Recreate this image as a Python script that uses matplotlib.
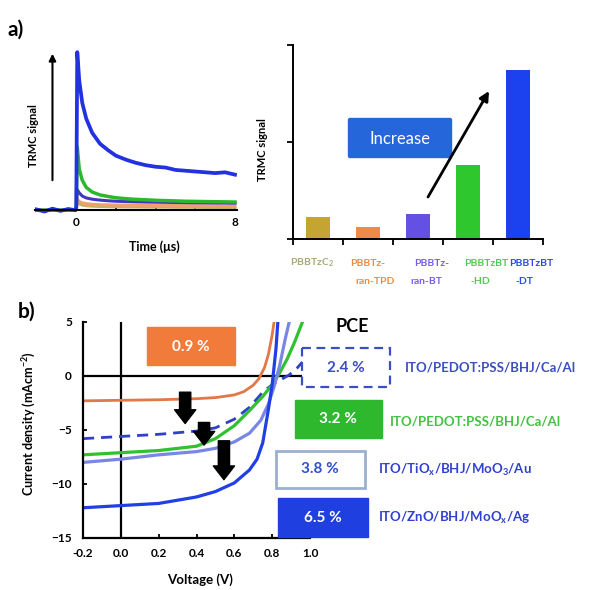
import matplotlib
matplotlib.use('Agg')
import matplotlib.pyplot as plt
from matplotlib.patches import Rectangle, FancyBboxPatch

plt.rcParams['font.family'] = ['Lato', 'DejaVu Sans']
plt.rcParams['font.weight'] = 'bold'
plt.rcParams['mathtext.default'] = 'regular'

# ---------------- data ----------------
# (a) TRMC transients
trmc_time = [-2.0, -1.6, -1.2, -0.8, -0.4, -0.05, 0.0, 0.05, 0.15, 0.3, 0.5, 0.8, 1.2,
             1.6, 2.0, 2.5, 3.0, 3.5, 4.0, 4.5, 5.0, 5.5, 6.0, 6.5, 7.0, 7.5, 8.0]
trmc_dt = [0.005, -0.008, 0.01, -0.004, 0.008, 0.0, 0.02, 1.0, 0.82, 0.68, 0.58, 0.49, 0.42,
           0.38, 0.345, 0.32, 0.30, 0.285, 0.275, 0.27, 0.255, 0.25, 0.245, 0.24, 0.235, 0.24, 0.225]
trmc_hd = [0.0, 0.0, 0.0, 0.0, 0.0, 0.0, 0.01, 0.40, 0.26, 0.19, 0.145, 0.115, 0.097,
           0.087, 0.079, 0.073, 0.069, 0.066, 0.063, 0.061, 0.059, 0.057, 0.056, 0.055, 0.054, 0.053, 0.052]
trmc_bt = [0.0, 0.0, 0.0, 0.0, 0.0, 0.0, 0.01, 0.13, 0.11, 0.09, 0.078, 0.07, 0.064,
           0.06, 0.057, 0.055, 0.053, 0.052, 0.051, 0.05, 0.049, 0.048, 0.047, 0.047, 0.046, 0.046, 0.045]
trmc_tpd = [0.0, 0.0, 0.0, 0.0, 0.0, 0.0, 0.01, 0.07, 0.055, 0.047, 0.042, 0.038, 0.035,
            0.034, 0.033, 0.032, 0.031, 0.031, 0.03, 0.03, 0.03, 0.029, 0.029, 0.029, 0.028, 0.028, 0.028]
trmc_c2 = [0.0, 0.0, 0.0, 0.0, 0.0, 0.0, 0.01, 0.05, 0.04, 0.033, 0.029, 0.026, 0.024,
           0.023, 0.022, 0.021, 0.021, 0.02, 0.02, 0.02, 0.019, 0.019, 0.019, 0.018, 0.018, 0.018, 0.018]

# (a) TRMC bar chart
polymers_line1 = ['PBBTzC$_2$', 'PBBTz-', 'PBBTz-', 'PBBTzBT', 'PBBTzBT']
polymers_line2 = ['', 'ran-TPD', 'ran-BT', '-HD', '-DT']
trmc_bar = [0.23, 0.12, 0.26, 0.76, 1.74]

# (b) J-V curves
v_orange = [-0.2, 0.0, 0.2, 0.4, 0.5, 0.6, 0.65, 0.7, 0.73, 0.76, 0.78, 0.8, 0.81]
j_orange = [-2.3, -2.25, -2.2, -2.1, -2.0, -1.75, -1.45, -0.85, -0.25, 0.8, 2.0, 3.8, 5.0]
v_dash = [-0.2, 0.0, 0.2, 0.4, 0.5, 0.6, 0.68, 0.75, 0.8, 0.85, 0.89, 0.93, 0.96]
j_dash = [-5.8, -5.6, -5.4, -5.1, -4.8, -4.0, -2.9, -1.5, -0.8, -0.3, 0.1, 0.7, 1.3]
v_green = [-0.2, 0.0, 0.2, 0.4, 0.5, 0.6, 0.68, 0.75, 0.8, 0.84, 0.88, 0.92, 0.96]
j_green = [-7.3, -7.1, -6.9, -6.5, -5.8, -4.6, -3.2, -1.9, -0.8, 0.3, 1.6, 3.2, 5.0]
v_light = [-0.2, 0.0, 0.2, 0.4, 0.5, 0.6, 0.68, 0.74, 0.78, 0.81, 0.84, 0.87, 0.89]
j_light = [-8.0, -7.7, -7.3, -7.0, -6.7, -6.1, -5.3, -4.1, -2.6, -1.0, 1.0, 3.5, 5.0]
v_blue = [-0.2, 0.0, 0.2, 0.4, 0.5, 0.6, 0.68, 0.72, 0.75, 0.78, 0.8, 0.82, 0.83]
j_blue = [-12.2, -12.0, -11.8, -11.2, -10.7, -9.9, -8.7, -7.7, -6.2, -3.1, -0.8, 2.5, 5.0]

pce_labels = ['0.9 %', '2.4 %', '3.2 %', '3.8 %', '6.5 %']
device_labels = ['ITO/PEDOT:PSS/BHJ/Ca/Al', 'ITO/PEDOT:PSS/BHJ/Ca/Al',
                 'ITO/TiO$_x$/BHJ/MoO$_3$/Au', 'ITO/ZnO/BHJ/MoO$_x$/Ag']

# ---------------- figure ----------------
W, H = 613, 590
fig = plt.figure(figsize=(W / 100, H / 100), dpi=100)


def rect(l, t, r, b):
    return [l / W, 1 - b / H, (r - l) / W, (b - t) / H]


# ---- (a) left: transients ----
axL = fig.add_axes(rect(35, 45, 237, 215))
axL.set_xlim(-2.08, 8.1)
axL.set_ylim(-0.03, 1.045)
for s in ['left', 'right', 'top']:
    axL.spines[s].set_visible(False)
axL.spines['bottom'].set_position(('data', 0))
axL.spines['bottom'].set_linewidth(1.5)
axL.set_yticks([])
axL.set_xticks([0, 2, 4, 6, 8])
axL.set_xticklabels(['0', '', '', '', '8'])
axL.tick_params(axis='x', direction='in', length=3, width=1.3, labelsize=8.5, pad=5)
axL.plot(trmc_time, trmc_c2, color='#C8B060', lw=2.2)
axL.plot(trmc_time, trmc_tpd, color='#F0A070', lw=2.2)
axL.plot(trmc_time, trmc_bt, color='#4038C0', lw=2.2)
axL.plot(trmc_time, trmc_hd, color='#2CB82C', lw=2.5)
axL.plot(trmc_time, trmc_dt, color='#2232E0', lw=2.7)
axL.annotate('', xy=(-1.2, 0.99), xytext=(-1.2, 0.19),
             arrowprops=dict(arrowstyle='-|>', color='black', lw=1.5,
                             shrinkA=0, shrinkB=0, mutation_scale=10))
axL.set_ylabel('TRMC signal', fontsize=8, fontweight='bold')
axL.yaxis.set_label_coords(0.02, 0.47)
axL.set_xlabel('Time (\u03bcs)', fontsize=9, fontweight='bold')
axL.xaxis.set_label_coords(0.59, -0.15)

# ---- (a) right: bars ----
axR = fig.add_axes(rect(293, 45, 543, 239))
axR.set_xlim(0, 5)
axR.set_ylim(0, 2)
axR.spines['right'].set_visible(False)
axR.spines['top'].set_visible(False)
axR.spines['left'].set_linewidth(1.4)
axR.spines['bottom'].set_linewidth(1.4)
axR.set_yticks([0, 1, 2])
axR.set_yticklabels([])
axR.set_xticks([0, 1, 2, 3, 4, 5])
axR.set_xticklabels([])
axR.tick_params(direction='out', length=4, width=1.3)
bar_colors = ['#C4A432', '#F08A48', '#6450E4', '#2EC82E', '#1C42F0']
axR.bar([0.5, 1.5, 2.5, 3.5, 4.5], trmc_bar, width=0.48, color=bar_colors)
axR.set_ylabel('TRMC signal', fontsize=8, fontweight='bold')
axR.yaxis.set_label_coords(-0.10, 0.46)

# ---- (b) J-V ----
axB = fig.add_axes(rect(83, 322, 310, 538))
axB.set_xlim(-0.2, 1.0)
axB.set_ylim(-15, 5)
axB.spines['right'].set_visible(False)
axB.spines['top'].set_visible(False)
axB.spines['left'].set_linewidth(1.6)
axB.spines['bottom'].set_linewidth(1.6)
axB.set_xticks([-0.2, 0.0, 0.2, 0.4, 0.6, 0.8, 1.0])
axB.set_xticklabels(['-0.2', '0.0', '0.2', '0.4', '0.6', '0.8', '1.0'])
axB.set_yticks([-15, -10, -5, 0, 5])
axB.tick_params(direction='in', length=3, width=1.3, labelsize=8.5)
axB.tick_params(axis='x', pad=7)
axB.tick_params(axis='y', pad=8)
axB.axhline(0, color='black', lw=1.6, zorder=1)
axB.axvline(0, color='black', lw=1.6, zorder=1)
axB.plot(v_orange, j_orange, color='#E07848', lw=2.0)
axB.plot(v_dash, j_dash, color='#3040C8', lw=2.0, ls=(0, (4, 2.5)), clip_on=False)
axB.plot(v_green, j_green, color='#30C030', lw=2.3)
axB.plot(v_light, j_light, color='#7A86E4', lw=2.3)
axB.plot(v_blue, j_blue, color='#2040E4', lw=2.3)
arr = dict(arrowstyle='simple,head_width=0.85,head_length=0.55,tail_width=0.45',
           color='black', shrinkA=0, shrinkB=0, mutation_scale=18)
axB.annotate('', xy=(0.34, -4.4), xytext=(0.34, -1.5), arrowprops=arr)
axB.annotate('', xy=(0.44, -6.4), xytext=(0.44, -4.3), arrowprops=arr)
axB.annotate('', xy=(0.545, -9.6), xytext=(0.545, -6.0), arrowprops=arr)
axB.set_ylabel('Current density (mAcm$^{-2}$)', fontsize=9, fontweight='bold')
axB.yaxis.set_label_coords(-0.2, 0.53)
axB.set_xlabel('Voltage (V)', fontsize=9.5, fontweight='bold')
axB.xaxis.set_label_coords(0.515, -0.165)

# ---- overlay for annotations ----
ov = fig.add_axes([0, 0, 1, 1], zorder=10)
ov.set_xlim(0, W)
ov.set_ylim(H, 0)
ov.axis('off')

ov.text(8, 30, 'a)', fontsize=15, fontweight='bold', va='center', ha='left')
ov.text(18, 312, 'b)', fontsize=15, fontweight='bold', va='center', ha='left')

# Increase box + arrow
ov.add_patch(FancyBboxPatch((350, 120), 100, 36, boxstyle='round,pad=1.5',
                            fc='#2566DA', ec='#2566DA'))
ov.text(400, 139, 'Increase', color='white', fontsize=12, fontweight='normal',
        ha='center', va='center')
ov.annotate('', xy=(489, 91), xytext=(428, 197),
            arrowprops=dict(arrowstyle='-|>', color='black', lw=2,
                            shrinkA=0, shrinkB=0, mutation_scale=14))

# bar category labels
lbl_colors = ['#A8A878', '#F08A40', '#7A5CF0', '#48D048', '#2A4CE8']
x1 = [290, 350, 414, 464, 509]
x2 = [0, 355, 410, 470, 515]
for i in range(5):
    ov.text(x1[i], 263, polymers_line1[i], color=lbl_colors[i], fontsize=7.5,
            fontweight='bold', ha='left', va='center')
    if polymers_line2[i]:
        ov.text(x2[i], 282, polymers_line2[i], color=lbl_colors[i], fontsize=7.5,
                fontweight='bold', ha='left', va='center')

# PCE
ov.text(352, 326, 'PCE', fontsize=13, fontweight='bold', ha='center', va='center')

# boxes
ov.add_patch(Rectangle((147, 327), 88, 38, fc='#F07B3A', ec='#F07B3A'))
ov.text(191, 347, pce_labels[0], color='white', fontsize=11, ha='center', va='center')

ov.add_patch(Rectangle((302, 348), 88, 39, fc='white', ec='#3A4FC0', lw=1.6, ls=(0, (4, 2.5))))
ov.text(346, 368, pce_labels[1], color='#3A4FC0', fontsize=11, ha='center', va='center')
ov.text(405, 368, device_labels[0], color='#3A4FC0', fontsize=9.5, ha='left', va='center')

ov.add_patch(Rectangle((295, 400), 87, 38, fc='#2DB82D', ec='#2DB82D'))
ov.text(338, 419, pce_labels[2], color='white', fontsize=11, ha='center', va='center')
ov.text(390, 421, device_labels[1], color='#44C044', fontsize=9.5, ha='left', va='center')

ov.add_patch(Rectangle((276, 451), 89, 37, fc='white', ec='#9AB0D0', lw=2))
ov.text(320, 469, pce_labels[3], color='#3050D0', fontsize=11, ha='center', va='center')
ov.text(378, 470, device_labels[2], color='#3040D0', fontsize=9.5, ha='left', va='center')

ov.add_patch(Rectangle((278, 498), 90, 39, fc='#1F3FE0', ec='#1F3FE0'))
ov.text(323, 518, pce_labels[4], color='white', fontsize=11, ha='center', va='center')
ov.text(378, 518, device_labels[3], color='#3040D0', fontsize=9.5, ha='left', va='center')

fig.savefig('out.png', dpi=100)
